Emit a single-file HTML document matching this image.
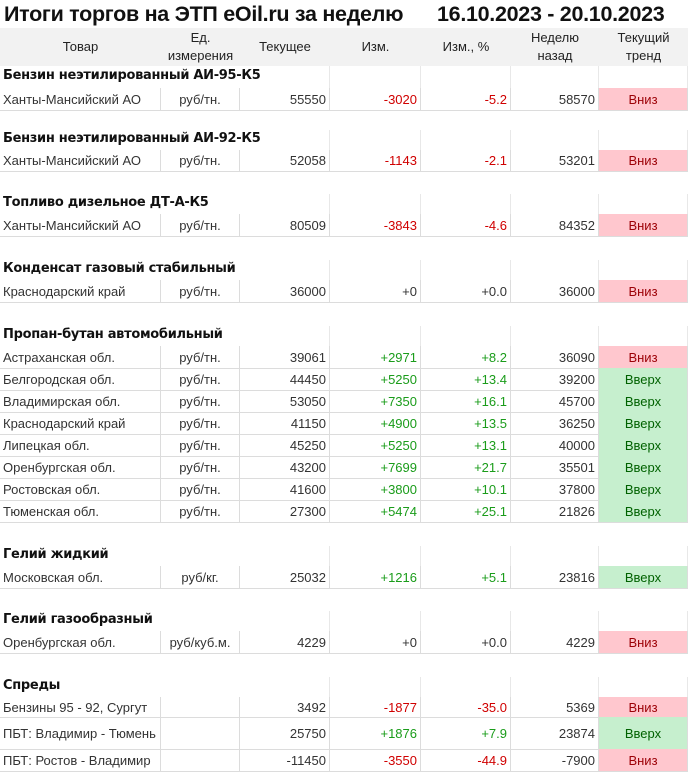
<!DOCTYPE html>
<html><head><meta charset="utf-8"><style>
body{margin:0;background:#fff;width:690px;height:772px;overflow:hidden;font-family:"Liberation Sans",Arial,sans-serif;font-size:13px;color:#333}
.t{position:absolute;top:2px;font-size:21.5px;font-weight:bold;color:#111;white-space:pre;letter-spacing:-0.3px}
.r{position:absolute;left:0;width:688px}
.c{position:absolute;top:0;bottom:0;display:flex;align-items:center;box-sizing:border-box;white-space:nowrap;padding:0 3px;border-right:1px solid #dcdcdc}
.d{border-bottom:1px solid #dcdcdc}
.h{background:#f2f2f2}
.h .c{justify-content:center;text-align:center;line-height:18px;border-right:none;color:#222}
.s .c{border-right:1px solid #e8e8e8}
.sec{position:absolute;left:3px;font-family:"DejaVu Sans",sans-serif;font-weight:bold;font-size:13px;color:#111;letter-spacing:-0.3px}
.n{justify-content:flex-end}.m{justify-content:center}
.red{color:#d00000}.grn{color:#1a9c1a}
.dn{background:#ffc7ce;color:#9c0006;justify-content:center}
.up{background:#c6efce;color:#006100;justify-content:center}
</style></head><body>
<div class="t" style="left:4px">Итоги торгов на ЭТП eOil.ru за неделю</div>
<div class="t" style="left:437px">16.10.2023 - 20.10.2023</div>
<div class="r h" style="top:28px;height:38px">
<div class="c" style="left:0;width:161px">Товар</div>
<div class="c" style="left:161px;width:79px">Ед.<br>измерения</div>
<div class="c" style="left:240px;width:90px">Текущее</div>
<div class="c" style="left:330px;width:91px">Изм.</div>
<div class="c" style="left:421px;width:90px">Изм., %</div>
<div class="c" style="left:511px;width:88px">Неделю<br>назад</div>
<div class="c" style="left:599px;width:89px">Текущий<br>тренд</div>
</div>
<div id="rows"></div>
<script>
const C=[[0,161],[161,79],[240,90],[330,91],[421,90],[511,88],[599,89]];
const rows=[
["s",66,22,"Бензин неэтилированный АИ-95-К5"],
["d",88,22,["Ханты-Мансийский АО","руб/тн.","55550","-3020","-5.2","58570","Вниз"]],
["s",130,20,"Бензин неэтилированный АИ-92-К5"],
["d",150,21,["Ханты-Мансийский АО","руб/тн.","52058","-1143","-2.1","53201","Вниз"]],
["s",194,20,"Топливо дизельное ДТ-А-К5"],
["d",214,22,["Ханты-Мансийский АО","руб/тн.","80509","-3843","-4.6","84352","Вниз"]],
["s",260,20,"Конденсат газовый стабильный"],
["d",280,22,["Краснодарский край","руб/тн.","36000","+0","+0.0","36000","Вниз"]],
["s",326,20,"Пропан-бутан автомобильный"],
["d",346,22,["Астраханская обл.","руб/тн.","39061","+2971","+8.2","36090","Вниз"]],
["d",368,22,["Белгородская обл.","руб/тн.","44450","+5250","+13.4","39200","Вверх"]],
["d",390,22,["Владимирская обл.","руб/тн.","53050","+7350","+16.1","45700","Вверх"]],
["d",412,22,["Краснодарский край","руб/тн.","41150","+4900","+13.5","36250","Вверх"]],
["d",434,22,["Липецкая обл.","руб/тн.","45250","+5250","+13.1","40000","Вверх"]],
["d",456,22,["Оренбургская обл.","руб/тн.","43200","+7699","+21.7","35501","Вверх"]],
["d",478,22,["Ростовская обл.","руб/тн.","41600","+3800","+10.1","37800","Вверх"]],
["d",500,22,["Тюменская обл.","руб/тн.","27300","+5474","+25.1","21826","Вверх"]],
["s",546,20,"Гелий жидкий"],
["d",566,22,["Московская обл.","руб/кг.","25032","+1216","+5.1","23816","Вверх"]],
["s",611,20,"Гелий газообразный"],
["d",631,22,["Оренбургская обл.","руб/куб.м.","4229","+0","+0.0","4229","Вниз"]],
["s",677,20,"Спреды"],
["d",697,20,["Бензины 95 - 92, Сургут","","3492","-1877","-35.0","5369","Вниз"]],
["d",717,32,["ПБТ: Владимир - Тюмень","","25750","+1876","+7.9","23874","Вверх"]],
["d",749,22,["ПБТ: Ростов - Владимир","","-11450","-3550","-44.9","-7900","Вниз"]]
];
let h="";
for(const r of rows){
 if(r[0]=="s"){
  h+=`<div class="r s" style="top:${r[1]}px;height:${r[2]}px">`;
  for(let i=2;i<7;i++)h+=`<div class="c" style="left:${C[i][0]}px;width:${C[i][1]}px"></div>`;
  h+=`<div class="sec" style="top:${r[2]/2-9}px">${r[3]}</div></div>`;
 }else{
  h+=`<div class="r d" style="top:${r[1]}px;height:${r[2]}px">`;
  r[3].forEach((v,i)=>{
   let cl="c";
   if(i==1)cl+=" m";
   if(i>=2&&i<=5)cl+=" n";
   if(i==3||i==4)cl+=v[0]=="-"?" red":(v=="+0"||v=="+0.0")?"":" grn";
   if(i==6)cl+=v=="Вниз"?" dn":" up";
   h+=`<div class="${cl}" style="left:${C[i][0]}px;width:${C[i][1]}px">${v}</div>`;
  });
  h+=`</div>`;
 }
}
document.getElementById("rows").innerHTML=h;
</script>
</body></html>
